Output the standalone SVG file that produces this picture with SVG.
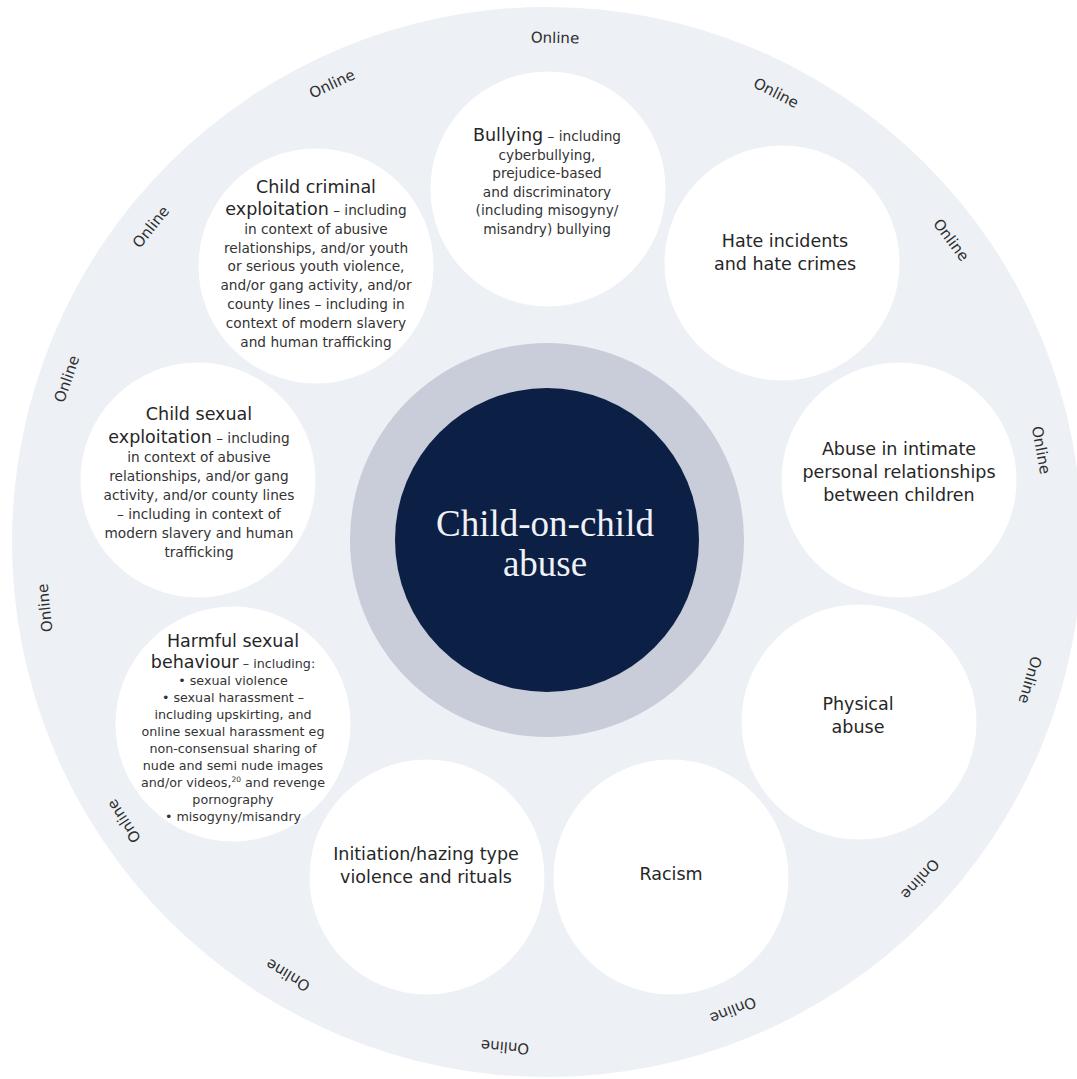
<svg xmlns="http://www.w3.org/2000/svg" width="1077" height="1079" viewBox="0 0 1077 1079">
<style>
.bg{fill:#edf0f5}
.ring{fill:#c9ccd9}
.core{fill:#0c1f45}
.node{fill:#ffffff}
.t{font-family:"DejaVu Sans","Liberation Sans",sans-serif;font-size:17.5px;fill:#262626}
.s{font-family:"DejaVu Sans","Liberation Sans",sans-serif;font-size:13.7px;fill:#333333}
.h{font-family:"DejaVu Sans","Liberation Sans",sans-serif;font-size:12.7px;fill:#333333}
.on{font-family:"DejaVu Sans","Liberation Sans",sans-serif;font-size:15px;fill:#2e2e2e}
.c{font-family:"Liberation Serif","DejaVu Serif",serif;font-size:37px;fill:#f0f1f6}
text{text-anchor:middle}
</style>
<rect width="1077" height="1079" fill="#ffffff"/>
<g id="outer-ring">
<circle class="bg" cx="547" cy="542" r="535"/>
</g>
<g id="online-labels">
<text class="on" dominant-baseline="central" transform="translate(555,38) rotate(1)">Online</text>
<text class="on" dominant-baseline="central" transform="translate(332,84) rotate(-25)">Online</text>
<text class="on" dominant-baseline="central" transform="translate(151,227) rotate(-51.5)">Online</text>
<text class="on" dominant-baseline="central" transform="translate(67,379) rotate(-71)">Online</text>
<text class="on" dominant-baseline="central" transform="translate(45,608) rotate(-96)">Online</text>
<text class="on" dominant-baseline="central" transform="translate(124,821) rotate(-123.4)">Online</text>
<text class="on" dominant-baseline="central" transform="translate(288,975) rotate(-149)">Online</text>
<text class="on" dominant-baseline="central" transform="translate(505,1047) rotate(184.8)">Online</text>
<text class="on" dominant-baseline="central" transform="translate(733,1010) rotate(158.3)">Online</text>
<text class="on" dominant-baseline="central" transform="translate(920,879) rotate(132)">Online</text>
<text class="on" dominant-baseline="central" transform="translate(1030,680) rotate(106)">Online</text>
<text class="on" dominant-baseline="central" transform="translate(1041,450) rotate(79.5)">Online</text>
<text class="on" dominant-baseline="central" transform="translate(951,240) rotate(53)">Online</text>
<text class="on" dominant-baseline="central" transform="translate(776,93) rotate(27)">Online</text>
</g>
<g id="connectors"></g>
<g id="center">
<circle class="ring" cx="547" cy="540" r="197"/>
<circle class="core" cx="547" cy="540" r="152"/>
<text class="c" x="545" y="536">Child-on-child</text>
<text class="c" x="545" y="576">abuse</text>
</g>
<g id="bullying">
<circle class="node" cx="548" cy="189" r="117.5"/>
<text x="547" y="141"><tspan class="t">Bullying</tspan><tspan class="s"> – including</tspan></text>
<text class="s" x="547" y="159.5">cyberbullying,</text>
<text class="s" x="547" y="178">prejudice-based</text>
<text class="s" x="547" y="196.5">and discriminatory</text>
<text class="s" x="547" y="215">(including misogyny/</text>
<text class="s" x="547" y="233.5">misandry) bullying</text>
</g>
<g id="child-criminal-exploitation">
<circle class="node" cx="316" cy="266" r="117.5"/>
<text class="t" x="316" y="193">Child criminal</text>
<text x="316" y="215"><tspan class="t">exploitation</tspan><tspan class="s"> – including</tspan></text>
<text class="s" x="316" y="234">in context of abusive</text>
<text class="s" x="316" y="252.5">relationships, and/or youth</text>
<text class="s" x="316" y="271">or serious youth violence,</text>
<text class="s" x="316" y="290">and/or gang activity, and/or</text>
<text class="s" x="316" y="309">county lines – including in</text>
<text class="s" x="316" y="328">context of modern slavery</text>
<text class="s" x="316" y="347">and human trafficking</text>
</g>
<g id="hate-incidents">
<circle class="node" cx="782" cy="263" r="117.5"/>
<text class="t" x="785" y="247">Hate incidents</text>
<text class="t" x="785" y="270">and hate crimes</text>
</g>
<g id="child-sexual-exploitation">
<circle class="node" cx="198" cy="480" r="117.5"/>
<text class="t" x="199" y="420">Child sexual</text>
<text x="199" y="443"><tspan class="t">exploitation</tspan><tspan class="s"> – including</tspan></text>
<text class="s" x="199" y="462">in context of abusive</text>
<text class="s" x="199" y="481">relationships, and/or gang</text>
<text class="s" x="199" y="500">activity, and/or county lines</text>
<text class="s" x="199" y="519">– including in context of</text>
<text class="s" x="199" y="538">modern slavery and human</text>
<text class="s" x="199" y="557">trafficking</text>
</g>
<g id="abuse-intimate-relationships">
<circle class="node" cx="899" cy="480" r="117.5"/>
<text class="t" x="899" y="455">Abuse in intimate</text>
<text class="t" x="899" y="478">personal relationships</text>
<text class="t" x="899" y="501">between children</text>
</g>
<g id="harmful-sexual-behaviour">
<circle class="node" cx="233" cy="724" r="117.5"/>
<text class="t" x="233" y="647">Harmful sexual</text>
<text x="233" y="668"><tspan class="t">behaviour</tspan><tspan class="h"> – including:</tspan></text>
<text class="h" x="233" y="685">• sexual violence</text>
<text class="h" x="233" y="702">• sexual harassment –</text>
<text class="h" x="233" y="719">including upskirting, and</text>
<text class="h" x="233" y="736">online sexual harassment eg</text>
<text class="h" x="233" y="753">non-consensual sharing of</text>
<text class="h" x="233" y="770">nude and semi nude images</text>
<text class="h" x="233" y="787">and/or videos,<tspan font-size="7.5" dy="-5">20</tspan><tspan dy="5"> and revenge</tspan></text>
<text class="h" x="233" y="804">pornography</text>
<text class="h" x="233" y="821">• misogyny/misandry</text>
</g>
<g id="physical-abuse">
<circle class="node" cx="859" cy="722" r="117.5"/>
<text class="t" x="858" y="709.5">Physical</text>
<text class="t" x="858" y="733">abuse</text>
</g>
<g id="initiation-hazing">
<circle class="node" cx="427" cy="877" r="117.5"/>
<text class="t" x="426" y="860">Initiation/hazing type</text>
<text class="t" x="426" y="883">violence and rituals</text>
</g>
<g id="racism">
<circle class="node" cx="671" cy="877" r="117.5"/>
<text class="t" x="671" y="880">Racism</text>
</g>
</svg>
